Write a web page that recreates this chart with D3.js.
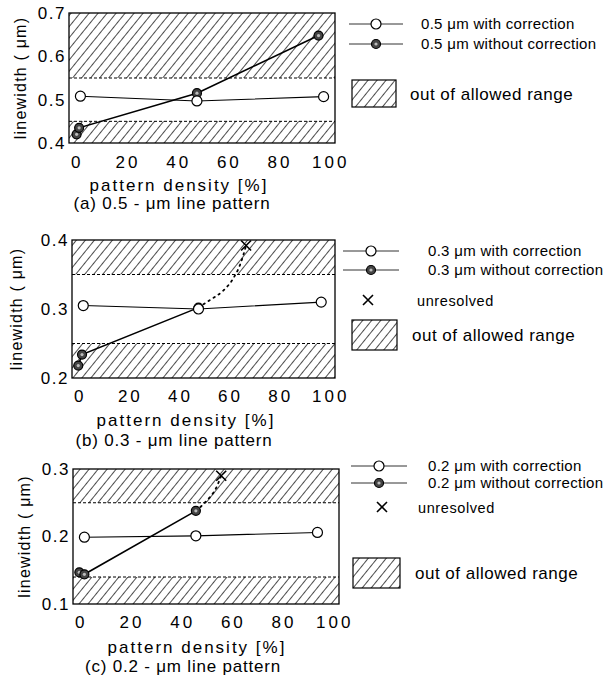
<!DOCTYPE html>
<html>
<head>
<meta charset="utf-8">
<script src="https://cdn.jsdelivr.net/npm/d3@7"></script>
<style>
  body { margin: 0; background: #fff; }
  svg { font-family: "Liberation Sans", Arial, sans-serif; }
</style>
</head>
<body>
<svg id="chart" width="612" height="676"></svg>
<script>
// ---- data ----
const xTicks = [0, 20, 40, 60, 80, 100];

// (a) 0.5 um
const aYTicks = [0.4, 0.5, 0.6, 0.7];
const aBand = [0.45, 0.55];
const aWith = [[2, 0.508], [48, 0.497], [98, 0.507]];
const aWithout = [[0.5, 0.42], [1.5, 0.435], [48, 0.515], [96, 0.648]];

// (b) 0.3 um
const bYTicks = [0.2, 0.3, 0.4];
const bBand = [0.25, 0.35];
const bWith = [[2, 0.305], [48, 0.300], [97, 0.310]];
const bWithout = [[0, 0.218], [1.5, 0.234], [48, 0.302]];
const bTrend = [[48, 0.302], [53, 0.314], [58, 0.327], [62, 0.345], [65, 0.368], [67, 0.392]];
const bUnres = [[67, 0.392]];

// (c) 0.2 um
const cYTicks = [0.1, 0.2, 0.3];
const cBand = [0.14, 0.25];
const cWith = [[2, 0.199], [46, 0.201], [94, 0.206]];
const cWithout = [[0, 0.147], [2, 0.144], [46, 0.238]];
const cTrend = [[46, 0.238], [50, 0.252], [54, 0.272], [56, 0.29]];
const cUnres = [[56, 0.29]];

const svg = d3.select("#chart");

// hatch pattern
svg.append("defs").append("pattern")
  .attr("id", "hatch")
  .attr("patternUnits", "userSpaceOnUse")
  .attr("width", 7).attr("height", 7)
  .attr("patternTransform", "rotate(39)")
  .append("line")
  .attr("x1", 0).attr("y1", 0).attr("x2", 0).attr("y2", 7)
  .attr("stroke", "#000").attr("stroke-width", 1.4);

const panels = [
  { box: [69, 335, 13, 143], yDom: [0.4, 0.7], yTicks: aYTicks, band: aBand,
    withD: aWith, withoutD: aWithout, trend: null, unres: null,
    xPad: 13, titleY: 191, titleX: 179, capY: 209, capX: 172, cap: "(a) 0.5 - \u03bcm  line pattern",
    yLabX: 20, size: "0.5",
    leg: { lx: [349, 403], y1: 24, y2: 44, tx: 421, unres: null, box: [352, 80, 44, 27], bt: 410 } },
  { box: [72, 335, 240, 378], yDom: [0.2, 0.4], yTicks: bYTicks, band: bBand,
    withD: bWith, withoutD: bWithout, trend: bTrend, unres: bUnres,
    xPad: 12, titleY: 426, titleX: 186, capY: 446, capX: 174, cap: "(b) 0.3 - \u03bcm  line pattern",
    yLabX: 16, size: "0.3",
    leg: { lx: [343, 399], y1: 251, y2: 270, tx: 428, unres: [368, 300, 417], box: [352, 320, 45, 30], bt: 412 } },
  { box: [73, 339, 469, 604], yDom: [0.1, 0.3], yTicks: cYTicks, band: cBand,
    withD: cWith, withoutD: cWithout, trend: cTrend, unres: cUnres,
    xPad: 12, titleY: 653, titleX: 197, capY: 672, capX: 183, cap: "(c) 0.2 - \u03bcm  line pattern",
    yLabX: 24, size: "0.2",
    leg: { lx: [351, 407], y1: 466, y2: 483, tx: 428, unres: [382, 507, 418], box: [353, 558, 47, 30], bt: 415 } }
];

function openDot(sel, x, y) {
  sel.append("circle").attr("cx", x).attr("cy", y).attr("r", 5)
    .attr("fill", "#fff").attr("stroke", "#000").attr("stroke-width", 1.2);
}
function fullDot(sel, x, y) {
  sel.append("circle").attr("cx", x).attr("cy", y).attr("r", 4.5)
    .attr("fill", "#444").attr("stroke", "#000").attr("stroke-width", 1.2);
  sel.append("circle").attr("cx", x).attr("cy", y).attr("r", 1.6).attr("fill", "#bbb");
}
function cross(sel, x, y, s) {
  sel.append("path")
    .attr("d", `M${x - s},${y - s}L${x + s},${y + s}M${x - s},${y + s}L${x + s},${y - s}`)
    .attr("stroke", "#000").attr("stroke-width", 1.6).attr("fill", "none");
}

panels.forEach(p => {
  const [l, r, t, b] = p.box;
  const x = d3.scaleLinear().domain([-2.5, 102.5]).range([l, r]);
  const y = d3.scaleLinear().domain(p.yDom).range([b, t]);
  const g = svg.append("g");

  // hatched out-of-range bands
  const bands = [[p.yDom[0], p.band[0]], [p.band[1], p.yDom[1]]];
  g.selectAll(".band").data(bands).join("rect")
    .attr("x", l).attr("width", r - l)
    .attr("y", d => y(d[1])).attr("height", d => y(d[0]) - y(d[1]))
    .attr("fill", "url(#hatch)");
  g.selectAll(".edge").data(p.band).join("line")
    .attr("x1", l).attr("x2", r).attr("y1", d => y(d)).attr("y2", d => y(d))
    .attr("stroke", "#000").attr("stroke-width", 1).attr("stroke-dasharray", "3,2");

  // frame
  g.append("rect").attr("x", l).attr("y", t).attr("width", r - l).attr("height", b - t)
    .attr("fill", "none").attr("stroke", "#000").attr("stroke-width", 1.3);

  // axes
  const ya = g.append("g").attr("transform", `translate(${l},0)`)
    .call(d3.axisLeft(y).tickValues(p.yTicks).tickSize(0).tickPadding(3).tickFormat(d3.format(".1f")));
  ya.select(".domain").remove();
  ya.selectAll("text").attr("font-size", 17).attr("letter-spacing", 1.5).attr("fill", "#000")
    .attr("font-family", "Liberation Sans, Arial, sans-serif");
  const xa = g.append("g").attr("transform", `translate(1.5,${b})`)
    .call(d3.axisBottom(x).tickValues(xTicks).tickSize(0).tickPadding(p.xPad));
  xa.select(".domain").remove();
  xa.selectAll("text").attr("font-size", 17).attr("letter-spacing", 3).attr("fill", "#000")
    .attr("font-family", "Liberation Sans, Arial, sans-serif");

  // titles
  g.append("text").attr("x", p.titleX).attr("y", p.titleY).attr("text-anchor", "middle")
    .attr("font-size", 17).attr("letter-spacing", 2).text("pattern density [%]");
  g.append("text").attr("x", p.capX).attr("y", p.capY).attr("text-anchor", "middle")
    .attr("font-size", 17).attr("letter-spacing", 0.8).text(p.cap);
  g.append("text").attr("transform", `translate(${p.yLabX + 6},${(t + b) / 2}) rotate(-90)`)
    .attr("text-anchor", "middle").attr("font-size", 16).attr("letter-spacing", 1.2)
    .text("linewidth ( \u03bcm)");

  const line = d3.line().x(d => x(d[0])).y(d => y(d[1]));

  // dotted trend to unresolved
  if (p.trend) {
    g.append("path").datum(p.trend)
      .attr("d", line.curve(d3.curveMonotoneX))
      .attr("fill", "none").attr("stroke", "#000").attr("stroke-width", 1.8)
      .attr("stroke-dasharray", "1.5,4.5").attr("stroke-linecap", "round");
    line.curve(d3.curveLinear);
  }

  g.append("path").datum(p.withoutD).attr("d", line)
    .attr("fill", "none").attr("stroke", "#000").attr("stroke-width", 1.6);
  g.append("path").datum(p.withD).attr("d", line)
    .attr("fill", "none").attr("stroke", "#000").attr("stroke-width", 1.1);

  p.withoutD.forEach(d => fullDot(g, x(d[0]), y(d[1])));
  p.withD.forEach(d => openDot(g, x(d[0]), y(d[1])));
  if (p.unres) p.unres.forEach(d => cross(g, x(d[0]), y(d[1]), 5));

  // legend
  const L = p.leg;
  const lg = svg.append("g");
  [L.y1, L.y2].forEach(yy => lg.append("line")
    .attr("x1", L.lx[0]).attr("x2", L.lx[1]).attr("y1", yy).attr("y2", yy)
    .attr("stroke", "#333").attr("stroke-width", 1));
  const mid = (L.lx[0] + L.lx[1]) / 2;
  openDot(lg, mid, L.y1);
  fullDot(lg, mid, L.y2);
  lg.append("text").attr("x", L.tx).attr("y", L.y1 + 5).attr("font-size", 15).attr("letter-spacing", 0.3)
    .text(`${p.size} \u03bcm with correction`);
  lg.append("text").attr("x", L.tx).attr("y", L.y2 + 5).attr("font-size", 15).attr("letter-spacing", 0.3)
    .text(`${p.size} \u03bcm without correction`);
  if (L.unres) {
    cross(lg, L.unres[0], L.unres[1], 5);
    lg.append("text").attr("x", L.unres[2]).attr("y", L.unres[1] + 6).attr("font-size", 14.5)
      .attr("letter-spacing", 0.6).text("unresolved");
  }
  lg.append("rect").attr("x", L.box[0]).attr("y", L.box[1]).attr("width", L.box[2]).attr("height", L.box[3])
    .attr("fill", "url(#hatch)").attr("stroke", "#000").attr("stroke-width", 1.2);
  lg.append("text").attr("x", L.bt).attr("y", L.box[1] + L.box[3] / 2 + 6).attr("font-size", 17)
    .attr("letter-spacing", 0.5).text("out of allowed range");
});
</script>
</body>
</html>
